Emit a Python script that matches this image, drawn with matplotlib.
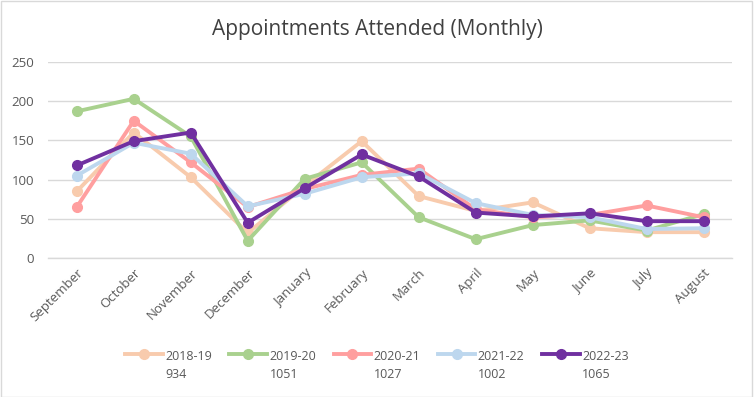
"""Recreate the monthly appointments attended line chart."""

import matplotlib

matplotlib.use("Agg")
import matplotlib.pyplot as plt
from matplotlib.patches import Rectangle

MONTHS = [
    "September", "October", "November", "December", "January", "February",
    "March", "April", "May", "June", "July", "August",
]

YEARS = ["2018-19", "2019-20", "2020-21", "2021-22", "2022-23"]
TOTALS = [934, 1051, 1027, 1002, 1065]

Y_2018_19 = [85, 160, 103, 32, 92, 149, 79, 60, 71, 38, 33, 33]
Y_2019_20 = [187, 203, 155, 22, 101, 122, 52, 24, 42, 48, 35, 56]
Y_2020_21 = [65, 175, 122, 65, 88, 106, 114, 62, 52, 55, 67, 52]
Y_2021_22 = [105, 147, 133, 66, 82, 103, 108, 70, 55, 52, 37, 38]
Y_2022_23 = [118, 149, 160, 45, 89, 132, 104, 58, 53, 57, 47, 47]

SERIES = [Y_2018_19, Y_2019_20, Y_2020_21, Y_2021_22, Y_2022_23]
COLORS = ["#F8CBAD", "#A9D18E", "#FF9F9F", "#BDD7EE", "#7030A0"]

TEXT = "#595959"
GRID = "#D9D9D9"

plt.rcParams["font.family"] = ["Open Sans", "DejaVu Sans"]

fig = plt.figure(figsize=(7.54, 3.97), dpi=100)
ax = fig.add_axes([0.064, 0.350, 0.907, 0.494])

x = range(len(MONTHS))
for year, total, values, color in zip(YEARS, TOTALS, SERIES, COLORS):
    ax.plot(
        x, values, color=color, linewidth=2.8, marker="o", markersize=7,
        label=f"{year}\n{total}", solid_joinstyle="round",
    )

ax.set_xlim(-0.5, len(MONTHS) - 0.5)
ax.set_ylim(0, 250)
ax.set_yticks([0, 50, 100, 150, 200, 250])
ax.set_xticks(list(x))
ax.set_xticklabels(MONTHS, rotation=45, ha="right", rotation_mode="anchor")
ax.tick_params(axis="both", length=0, colors=TEXT, labelsize=9.5)
ax.tick_params(axis="x", pad=6)
ax.tick_params(axis="y", pad=10)
ax.grid(axis="y", color=GRID, linewidth=1.0)
ax.set_axisbelow(True)
for side in ["top", "right", "left"]:
    ax.spines[side].set_visible(False)
ax.spines["bottom"].set_color(GRID)
ax.spines["bottom"].set_linewidth(1.0)

fig.text(0.5, 0.925, "Appointments Attended (Monthly)", ha="center", va="center",
         fontsize=15, color="#404040")

leg = fig.legend(
    loc="center", bbox_to_anchor=(0.5, 0.11), ncol=5, frameon=False,
    fontsize=9, handlelength=3.0, handletextpad=0.2, columnspacing=1.4,
    labelcolor=TEXT,
)
for text in leg.get_texts():
    text.set_va("center")
    text.set_linespacing(1.5)

fig.patches.append(Rectangle((0.001, 0.001), 0.997, 0.996, transform=fig.transFigure,
                             fill=False, edgecolor=GRID, linewidth=1.0))

fig.savefig("out.png", dpi=100)
